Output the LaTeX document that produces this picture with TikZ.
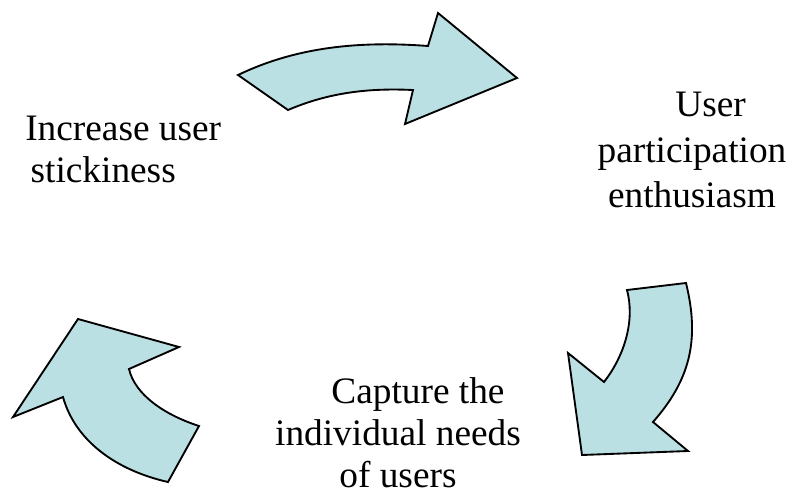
\documentclass[tikz,border=0pt]{standalone}
\usepackage{fontspec}
\setmainfont{Liberation Serif}
\definecolor{arrowfill}{RGB}{187,224,228}
\begin{document}
\begin{tikzpicture}[x=0.75pt,y=-0.75pt,
    cyclearrow/.style={draw=black,line width=1.4pt,fill=arrowfill,line join=miter},
    stagetext/.style={inner sep=0pt,font=\fontsize{28}{31.5}\selectfont}]
  \useasboundingbox (0,0) rectangle (792,493);
  % stages
  \node[stagetext,align=left,anchor=west] (stick) at (25,149)
    {Increase user\\\hspace*{4pt}stickiness};
  \node[stagetext,align=center,font=\fontsize{28}{34}\selectfont] (enth) at (692,150)
    {\hspace*{28pt}User\\participation\\enthusiasm};
  \node[stagetext,align=center] (needs) at (398,433)
    {\hspace*{30pt}Capture the\\individual needs\\of users};
  % arrows
  \draw[cyclearrow] (238,75) -- (288,110) .. controls (330,92) and (370,88) .. (413,90)
    -- (405,124) -- (517,78) -- (438,13) -- (428,46)
    .. controls (350,40) and (290,50) .. (238,75) -- cycle;
  \draw[cyclearrow] (627,290) -- (686,283) .. controls (700,340) and (690,380) .. (653,422)
    -- (688,451) -- (582,455) -- (568,353) -- (604,382)
    .. controls (625,355) and (635,320) .. (627,290) -- cycle;
  \draw[cyclearrow] (168,482) -- (199,426) .. controls (165,415) and (135,395) .. (129,369)
    -- (179,347) -- (78,319) -- (13,417) -- (63,397)
    .. controls (75,440) and (115,470) .. (168,482) -- cycle;
\end{tikzpicture}
\end{document}
